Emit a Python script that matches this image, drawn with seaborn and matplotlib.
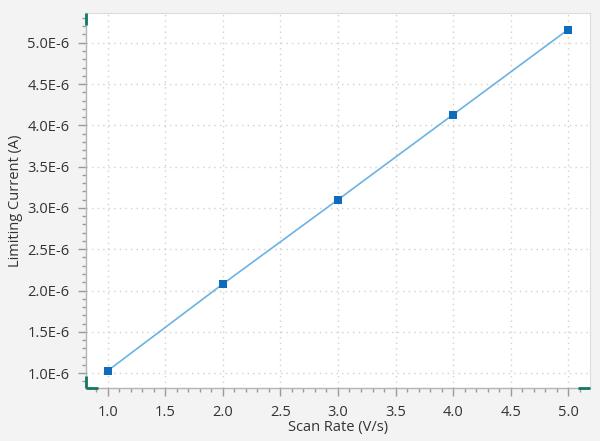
import numpy as np
import seaborn as sns
import matplotlib.pyplot as plt
from matplotlib.ticker import FuncFormatter, AutoMinorLocator

# data
scan_rate = [1.0, 2.0, 3.0, 4.0, 5.0]
limiting_current = [1.03e-6, 2.08e-6, 3.10e-6, 4.13e-6, 5.16e-6]

x_ticks = [1.0, 1.5, 2.0, 2.5, 3.0, 3.5, 4.0, 4.5, 5.0]
y_ticks = [1.0e-6, 1.5e-6, 2.0e-6, 2.5e-6, 3.0e-6, 3.5e-6, 4.0e-6, 4.5e-6, 5.0e-6]


def main():
    sns.set_theme(style="white")
    plt.rcParams["font.family"] = ["Open Sans", "DejaVu Sans"]

    fig = plt.figure(figsize=(6, 4.41), dpi=100)
    fig.patch.set_facecolor("#f3f3f3")
    ax = fig.add_axes([0.1433, 0.1202, 0.84, 0.8503])
    ax.set_facecolor("white")

    sns.lineplot(x=scan_rate, y=limiting_current, ax=ax,
                 color="#6cb2e3", linewidth=1.2, zorder=2)
    sns.scatterplot(x=scan_rate, y=limiting_current, ax=ax,
                    marker="s", s=30, color="#0f6cbd", edgecolor="#0f6cbd",
                    linewidth=0, zorder=3)

    ax.set_xlim(0.81, 5.19)
    ax.set_ylim(0.82e-6, 5.36e-6)

    ax.set_xticks(x_ticks)
    ax.set_yticks(y_ticks)
    ax.xaxis.set_minor_locator(AutoMinorLocator(5))
    ax.yaxis.set_minor_locator(AutoMinorLocator(5))
    ax.xaxis.set_major_formatter(FuncFormatter(lambda v, p: f"{v:.1f}"))
    ax.yaxis.set_major_formatter(FuncFormatter(lambda v, p: f"{v * 1e6:.1f}E-6"))

    ax.grid(True, which="major", color="#d0d0d0", linestyle=(0, (1, 3)), linewidth=1)

    ax.tick_params(axis="both", which="major", direction="out", length=6, width=1,
                   color="#9a9a9a", labelsize=10.5, labelcolor="#333333", pad=6,
                   bottom=True, left=True)
    ax.tick_params(axis="both", which="minor", direction="out", length=3, width=1,
                   color="#9a9a9a", bottom=True, left=True)

    for side in ["left", "bottom"]:
        ax.spines[side].set_color("#b4b4b4")
        ax.spines[side].set_linewidth(1)
    for side in ["top", "right"]:
        ax.spines[side].set_color("#dcdcdc")
        ax.spines[side].set_linewidth(0.8)

    # teal range handles at the axis ends
    teal = "#117865"
    trans = ax.transAxes
    kw = dict(color=teal, lw=2, transform=trans, clip_on=False, zorder=5,
              solid_capstyle="butt")
    ax.plot([0, 0], [0.968, 1.0], **kw)
    ax.plot([0, 0], [0, 0.032], **kw)
    ax.plot([0, 0.024], [0, 0], **kw)
    ax.plot([0.976, 1.0], [0, 0], **kw)

    ax.set_xlabel("Scan Rate (V/s)", fontsize=10.5, color="#333333", labelpad=0)
    ax.set_ylabel("Limiting Current (A)", fontsize=10.5, color="#333333", labelpad=3)

    plt.savefig("out.png", dpi=100, facecolor=fig.get_facecolor())


if __name__ == "__main__":
    main()
